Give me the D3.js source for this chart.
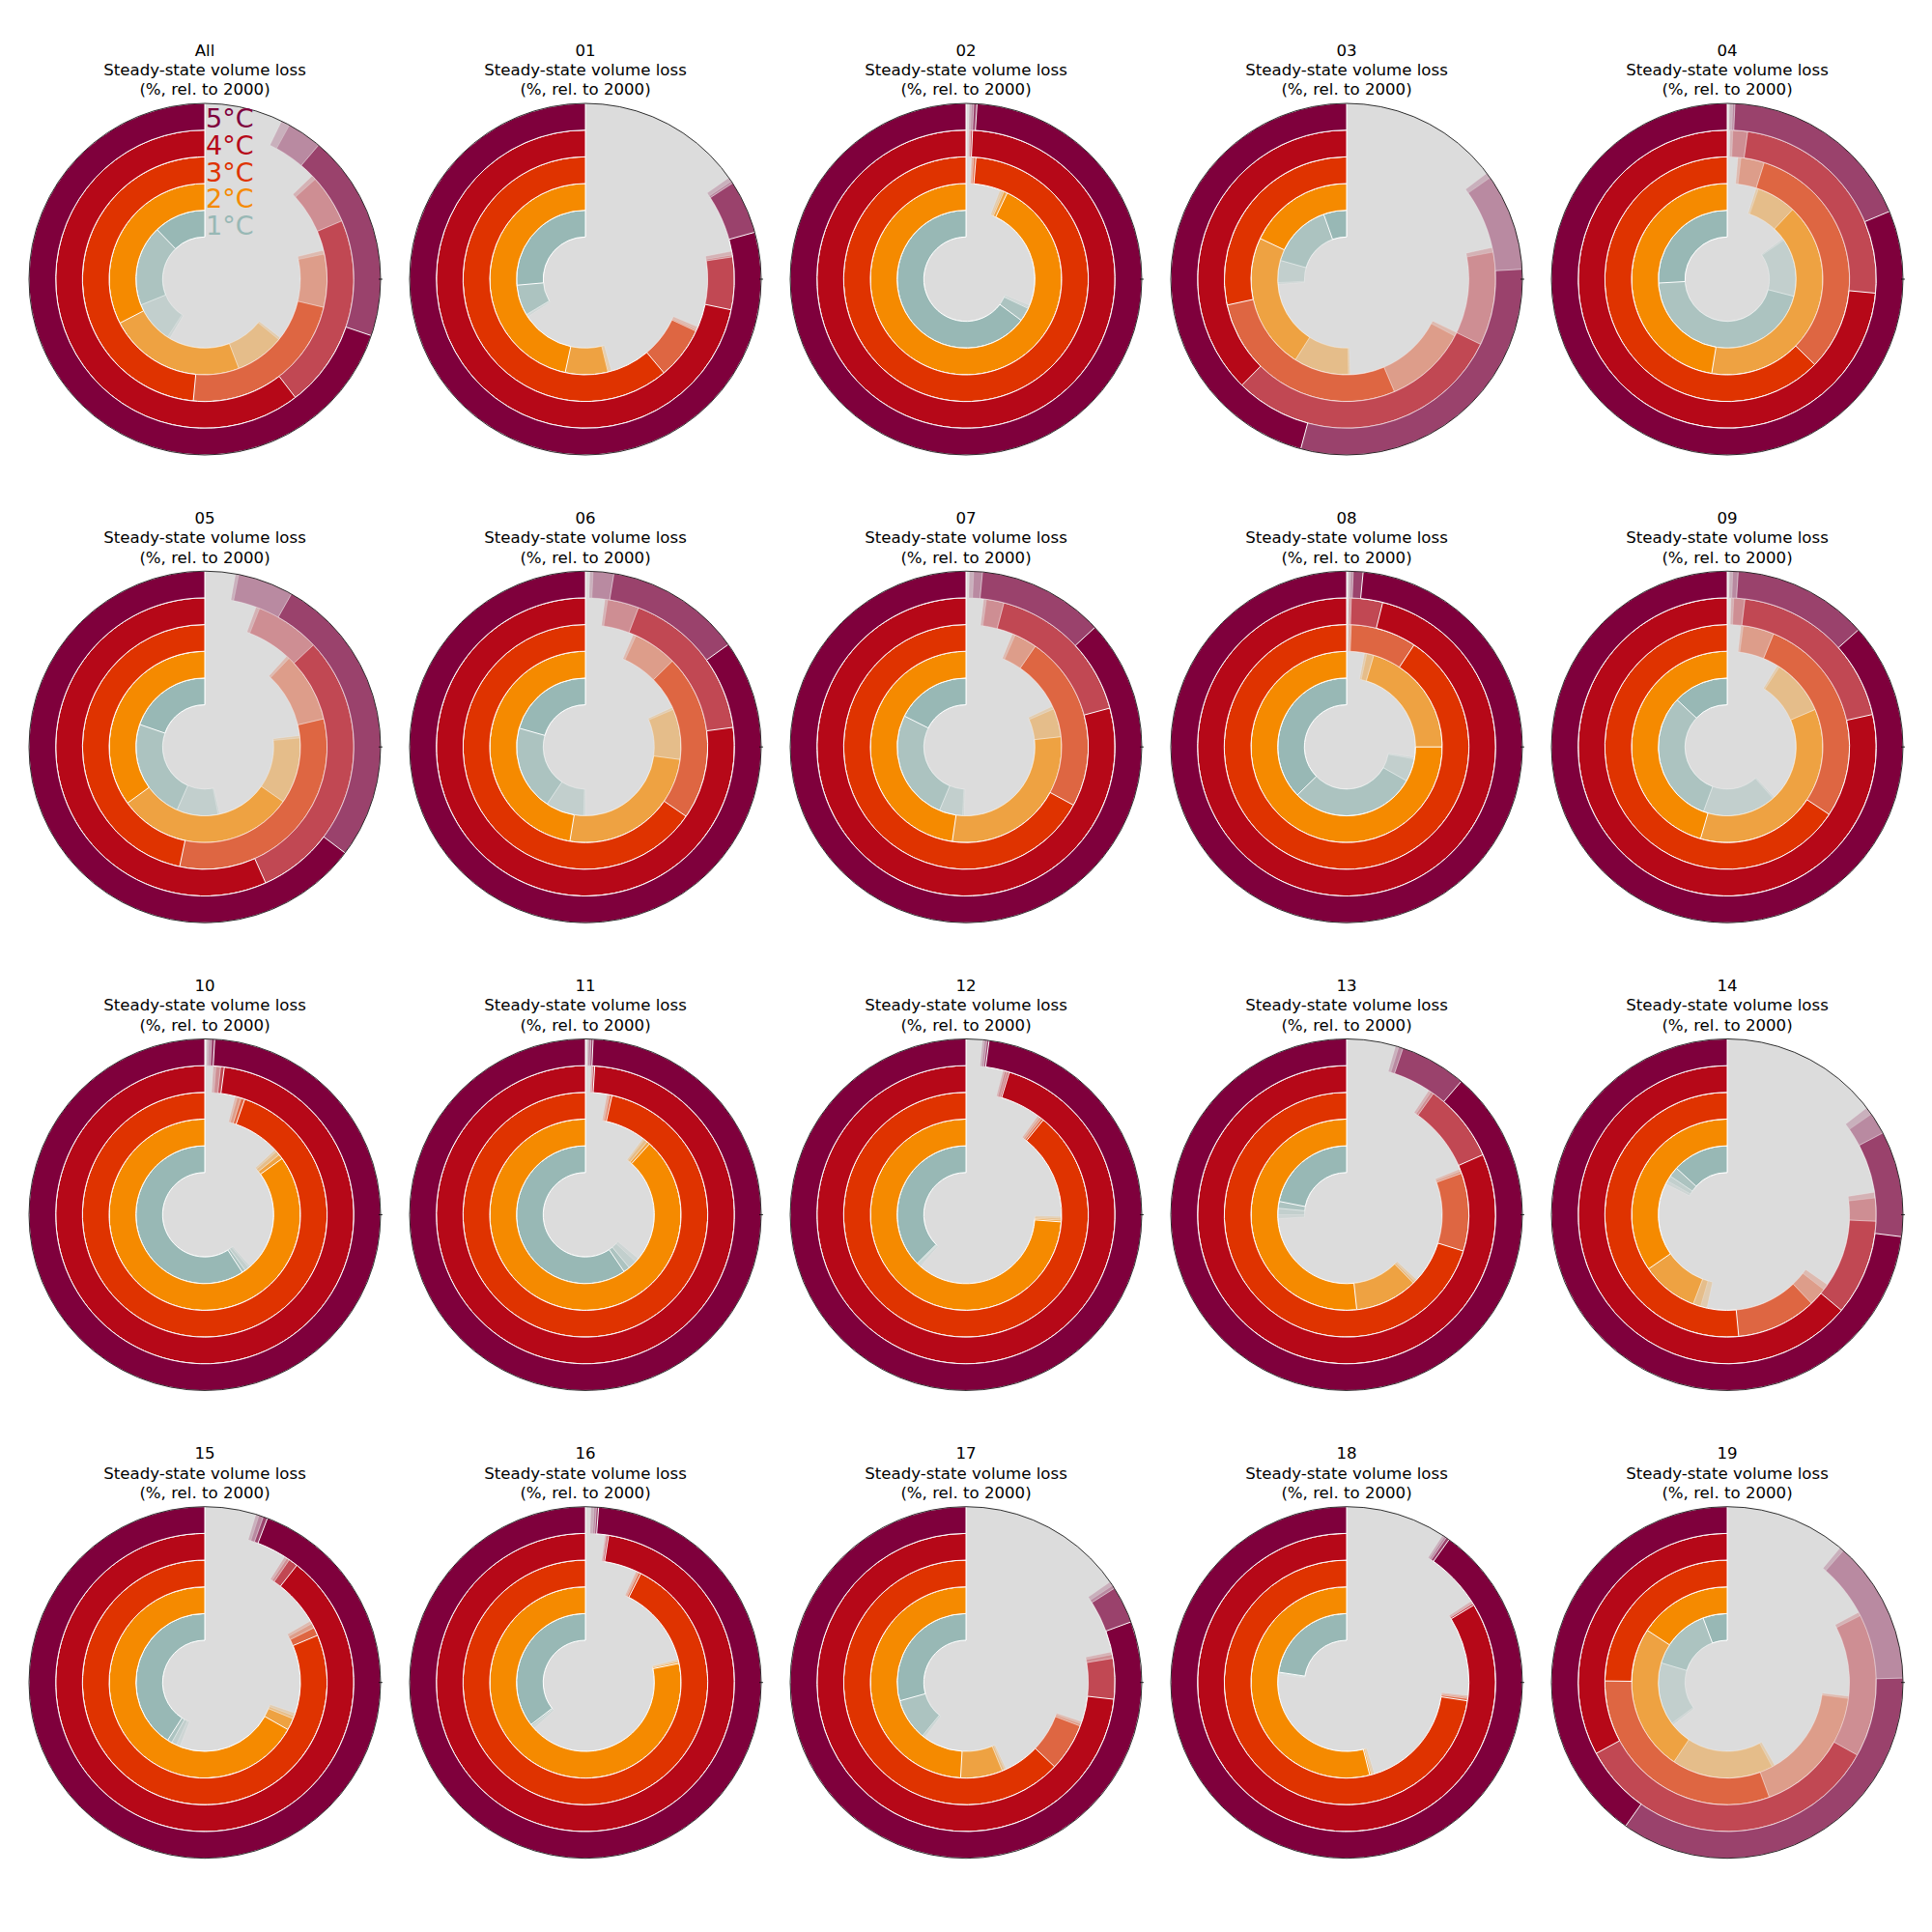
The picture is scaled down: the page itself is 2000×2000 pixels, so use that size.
<!DOCTYPE html>
<html><head><meta charset="utf-8">
<script src="https://cdn.jsdelivr.net/npm/d3@7"></script>
<style>
body{margin:0;background:#fff}
text{font-family:"DejaVu Sans",sans-serif}
</style>
</head><body>
<svg id="chart" width="2000" height="2000"></svg>
<script>
// ---------------- DATA ----------------
const regions = ["All","01","02","03","04","05","06","07","08","09",
                 "10","11","12","13","14","15","16","17","18","19"];
const temps = ["1°C","2°C","3°C","4°C","5°C"];
const tempColors = ["#98b8b5","#f58a00","#df3300","#b60818","#7f003c"];
const titleLines = ["Steady-state volume loss","(%, rel. to 2000)"];

// Steady-state volume loss (%), rows = regions, columns = 1°C..5°C
// lowest estimate (fully opaque part)
const lossSolid = [
 [12.2,32.6,48.5,60.4,69.8],[26.4,46.6,61.1,71.7,79.3],[64.8,92.9,98.7,99.3,99.0],
 [5.4,18.0,28.4,37.6,45.8],[25.9,47.4,62.7,73.5,81.3],[19.7,35.0,46.7,56.7,64.7],
 [20.6,47.4,65.4,77.1,84.9],[17.6,47.7,67.1,79.2,86.9],[37.3,75.0,90.7,96.1,98.5],
 [13.0,45.5,65.7,78.5,86.6],[59.2,85.0,94.7,97.9,99.1],[59.5,88.3,96.5,99.0,99.3],
 [37.5,73.8,89.1,95.3,97.9],[21.9,51.7,70.2,81.6,88.7],[13.2,34.6,51.5,63.9,73.0],
 [40.9,66.8,81.3,89.4,94.2],[35.5,78.2,92.5,97.5,98.8],[29.3,49.1,62.9,73.2,80.6],
 [22.6,53.9,72.6,83.7,90.1],[5.7,15.8,24.8,32.9,40.2]];
// middle estimate
const lossMed = [
 [31.1,55.8,71.3,81.4,88.8],[33.6,53.8,68.0,77.4,84.2],[68.0,93.5,99.0,99.5,99.3],
 [20.6,41.0,56.4,67.8,75.9],[71.0,88.0,95.1,97.8,99.3],[43.4,65.3,78.7,87.0,91.8],
 [40.6,72.9,87.4,94.2,97.4],[43.7,76.7,90.4,95.9,98.5],[66.8,95.4,99.4,99.5,99.4],
 [44.4,81.4,93.8,98.1,99.0],[60.0,85.8,95.2,98.3,99.4],[61.0,88.8,96.8,99.2,99.5],
 [37.8,74.1,89.4,95.5,98.1],[23.5,62.3,80.5,90.1,94.8],[15.5,44.2,62.1,74.3,82.7],
 [42.0,68.8,82.4,90.4,94.6],[35.9,78.5,92.8,97.7,99.0],[39.1,56.2,69.2,77.6,84.0],
 [22.8,54.2,72.9,83.9,90.4],[20.4,40.6,55.6,66.9,75.4]];
// upper estimate
const lossLight = [
 [40.9,64.1,78.3,86.7,92.0],[33.8,54.0,68.2,77.6,84.4],[68.3,93.8,99.2,99.6,99.5],
 [25.8,50.3,67.3,77.9,84.8],[84.6,94.7,98.2,99.4,99.5],[53.1,76.5,87.9,94.0,96.9],
 [49.6,81.4,93.2,97.6,99.3],[49.2,81.5,93.4,97.8,99.3],[72.2,96.6,99.6,99.7,99.6],
 [61.6,90.8,97.9,99.3,99.5],[61.0,86.5,95.7,98.8,99.6],[63.0,89.4,97.0,99.3,99.7],
 [38.1,74.4,89.7,95.8,98.3],[25.0,62.7,80.8,90.4,95.2],[16.8,45.5,64.5,76.8,84.7],
 [43.2,69.3,83.0,90.7,95.0],[36.2,78.7,93.0,97.8,99.2],[39.5,56.6,69.5,78.0,84.3],
 [23.0,54.4,73.1,84.0,90.6],[35.1,57.8,72.9,82.4,88.5]];
// highest estimate
const lossMax = [
 [41.5,64.5,78.8,87.2,92.8],[34.2,54.4,68.6,78.0,84.8],[68.8,94.2,99.3,99.7,99.7],
 [26.2,50.6,67.8,78.4,85.3],[85.0,95.1,98.6,99.7,99.8],[53.5,76.9,88.3,94.4,97.2],
 [50.0,81.8,93.6,97.9,99.6],[49.6,82.0,93.8,98.1,99.7],[72.6,97.0,99.8,99.8,99.8],
 [62.0,91.2,98.2,99.6,99.8],[61.5,86.9,96.0,99.1,99.8],[64.0,89.7,97.2,99.4,99.8],
 [38.5,74.7,90.0,96.0,98.5],[25.9,63.1,81.1,90.7,95.5],[17.6,46.6,65.3,77.4,85.4],
 [44.1,69.8,83.4,91.0,95.3],[36.6,78.9,93.2,97.9,99.5],[39.8,56.9,69.8,78.3,84.7],
 [23.2,54.7,73.3,84.2,90.8],[35.6,58.3,73.2,82.8,88.9]];

// ---------------- DRAWING ----------------
const svg = d3.select("#chart");
svg.append("rect").attr("width",2000).attr("height",2000).attr("fill","#fff");

const R = 182;
const colX = d3.scaleLinear().domain([0,4]).range([212,1788]);
const rowY = d3.scaleLinear().domain([0,3]).range([289,1741.7]);
const angle = d3.scaleLinear().domain([0,100]).range([0,-2*Math.PI]);
const radius = d3.scaleLinear().domain([0,5]).range([43.7,R]);

const layers = [
  {vals: lossMax,   alpha: 0.2},
  {vals: lossLight, alpha: 0.21},
  {vals: lossMed,   alpha: 0.52},
  {vals: lossSolid, alpha: 1}
];

regions.forEach((name,i)=>{
  const cx = colX(i%5), cy = rowY(Math.floor(i/5));
  const g = svg.append("g").attr("transform",`translate(${cx},${cy})`);
  g.append("circle").attr("r",R).attr("fill","#dcdcdc");

  temps.forEach((t,k)=>{
    const arc = d3.arc().innerRadius(radius(k)).outerRadius(radius(k+1));
    layers.forEach(L=>{
      const v = L.vals[i][k];
      g.append("path")
        .attr("d", arc({startAngle: angle(v), endAngle: 0}))
        .attr("fill", tempColors[k])
        .attr("fill-opacity", L.alpha)
        .attr("stroke", "#fff")
        .attr("stroke-opacity", L.alpha)
        .attr("stroke-width", 1);
    });
  });

  g.append("circle").attr("r",R).attr("fill","none")
    .attr("stroke","#000").attr("stroke-width",0.8);
  g.append("line").attr("x1",R-2).attr("x2",R+2).attr("y1",0).attr("y2",0)
    .attr("stroke","#000").attr("stroke-width",0.8);

  const title = g.append("text").attr("text-anchor","middle")
    .attr("font-size",16.6).attr("fill","#000");
  [name, ...titleLines].forEach((s,j)=>{
    title.append("tspan").attr("x",0).attr("y",-231.3 + j*20.3).text(s);
  });

  if (i === 0) {
    temps.forEach((t,k)=>{
      const rm = (radius(k)+radius(k+1))/2;
      g.append("text").attr("x",1).attr("y",-rm + 11.5)
        .attr("font-size",27).attr("fill",tempColors[k]).text(t);
    });
  }
});
</script>
</body></html>
